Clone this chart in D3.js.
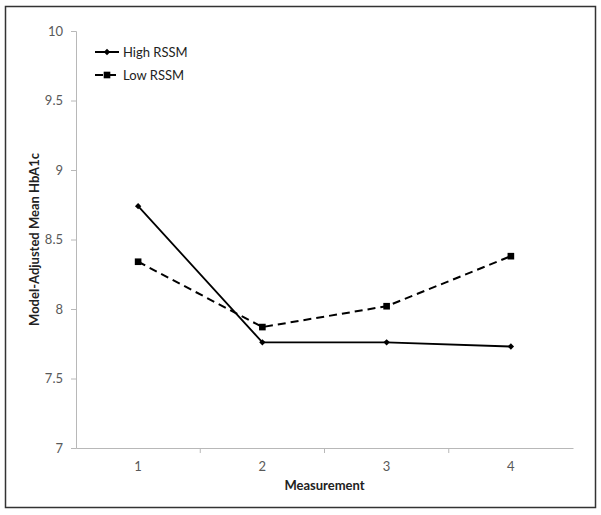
<!DOCTYPE html>
<html>
<head>
<meta charset="utf-8">
<style>
  body { margin: 0; background: #fff; }
  text { font-family: Lato, "Open Sans", sans-serif; }
</style>
</head>
<body>
<script src="https://cdnjs.cloudflare.com/ajax/libs/d3/7.8.5/d3.min.js"></script>
<script>
var categories = ["1", "2", "3", "4"];
var highRSSM = [8.74, 7.76, 7.76, 7.73];
var lowRSSM = [8.34, 7.87, 8.02, 8.38];
var yTicks = [7, 7.5, 8, 8.5, 9, 9.5, 10];

var w = 601, h = 515;
var plotLeft = 76, plotRight = 573, plotTop = 31, plotBottom = 448;

var svg = d3.select("body").append("svg")
    .attr("width", w)
    .attr("height", h);

// outer frame
svg.append("rect")
    .attr("x", 5.5).attr("y", 6.5)
    .attr("width", 590).attr("height", 501)
    .attr("fill", "none")
    .attr("stroke", "#333")
    .attr("stroke-width", 1.5);

var xScale = d3.scaleBand()
    .domain(categories)
    .range([plotLeft, plotRight]);

var yScale = d3.scaleLinear()
    .domain([7, 10])
    .range([plotBottom, plotTop]);

// y axis
var yAxis = svg.append("g")
    .attr("transform", "translate(" + plotLeft + ",0)")
    .call(d3.axisLeft(yScale).tickValues(yTicks).tickSize(5).tickPadding(8)
        .tickFormat(function(d) { return d3.format("")(d); }));
yAxis.select(".domain").attr("stroke", "#b8b8b8");
yAxis.selectAll(".tick line").attr("stroke", "#b8b8b8");
yAxis.selectAll("text").attr("fill", "#595959").attr("font-size", "13px");

// x axis with ticks between categories
var xAxis = svg.append("g")
    .attr("transform", "translate(0," + plotBottom + ")")
    .call(d3.axisBottom(xScale).tickSize(0).tickPadding(14));
xAxis.select(".domain").attr("stroke", "#b8b8b8");
xAxis.selectAll("text").attr("fill", "#595959").attr("font-size", "13px");

xAxis.selectAll("line.sep")
    .data(categories.slice(1))
    .enter()
    .append("line")
    .attr("class", "sep")
    .attr("x1", function(d) { return xScale(d); })
    .attr("x2", function(d) { return xScale(d); })
    .attr("y1", 0)
    .attr("y2", 5)
    .attr("stroke", "#b8b8b8");

// axis titles
svg.append("text")
    .attr("x", (plotLeft + plotRight) / 2)
    .attr("y", 490)
    .attr("text-anchor", "middle")
    .attr("font-size", "13px")
    .attr("font-weight", "bold")
    .attr("fill", "#222")
    .text("Measurement");

svg.append("text")
    .attr("transform", "translate(39," + (plotTop + plotBottom) / 2 + ") rotate(-90)")
    .attr("text-anchor", "middle")
    .attr("font-size", "13px")
    .attr("font-weight", "bold")
    .attr("fill", "#222")
    .text("Model-Adjusted Mean HbA1c");

var line = d3.line()
    .x(function(d, i) { return xScale(categories[i]) + xScale.bandwidth() / 2; })
    .y(function(d) { return yScale(d); });

// low RSSM (dashed)
svg.append("path")
    .datum(lowRSSM)
    .attr("d", line)
    .attr("fill", "none")
    .attr("stroke", "#000")
    .attr("stroke-width", 2)
    .attr("stroke-dasharray", "8,5");

// high RSSM (solid)
svg.append("path")
    .datum(highRSSM)
    .attr("d", line)
    .attr("fill", "none")
    .attr("stroke", "#000")
    .attr("stroke-width", 1.8);

var diamond = d3.symbol().type(d3.symbolDiamond2).size(26);
var square = d3.symbol().type(d3.symbolSquare).size(44);

svg.selectAll("path.hi")
    .data(highRSSM)
    .enter()
    .append("path")
    .attr("class", "hi")
    .attr("d", diamond)
    .attr("transform", function(d, i) {
        return "translate(" + (xScale(categories[i]) + xScale.bandwidth() / 2) + "," + yScale(d) + ")";
    })
    .attr("fill", "#000");

svg.selectAll("path.lo")
    .data(lowRSSM)
    .enter()
    .append("path")
    .attr("class", "lo")
    .attr("d", square)
    .attr("transform", function(d, i) {
        return "translate(" + (xScale(categories[i]) + xScale.bandwidth() / 2) + "," + yScale(d) + ")";
    })
    .attr("fill", "#000");

// legend
var legend = [
    { name: "High RSSM", dash: null, sym: diamond, y: 52 },
    { name: "Low RSSM", dash: "8,5", sym: square, y: 75 }
];
var lg = svg.selectAll("g.legend")
    .data(legend)
    .enter()
    .append("g")
    .attr("class", "legend")
    .attr("transform", function(d) { return "translate(95," + d.y + ")"; });
lg.append("line")
    .attr("x1", 0).attr("x2", 24)
    .attr("y1", 0).attr("y2", 0)
    .attr("stroke", "#000")
    .attr("stroke-width", 2)
    .attr("stroke-dasharray", function(d) { return d.dash; });
lg.append("path")
    .attr("d", function(d) { return d.sym(); })
    .attr("transform", "translate(12,0)")
    .attr("fill", "#000");
lg.append("text")
    .attr("x", 28)
    .attr("y", 0)
    .attr("dy", "0.35em")
    .attr("font-size", "13px")
    .attr("fill", "#222")
    .text(function(d) { return d.name; });
</script>
</body>
</html>
